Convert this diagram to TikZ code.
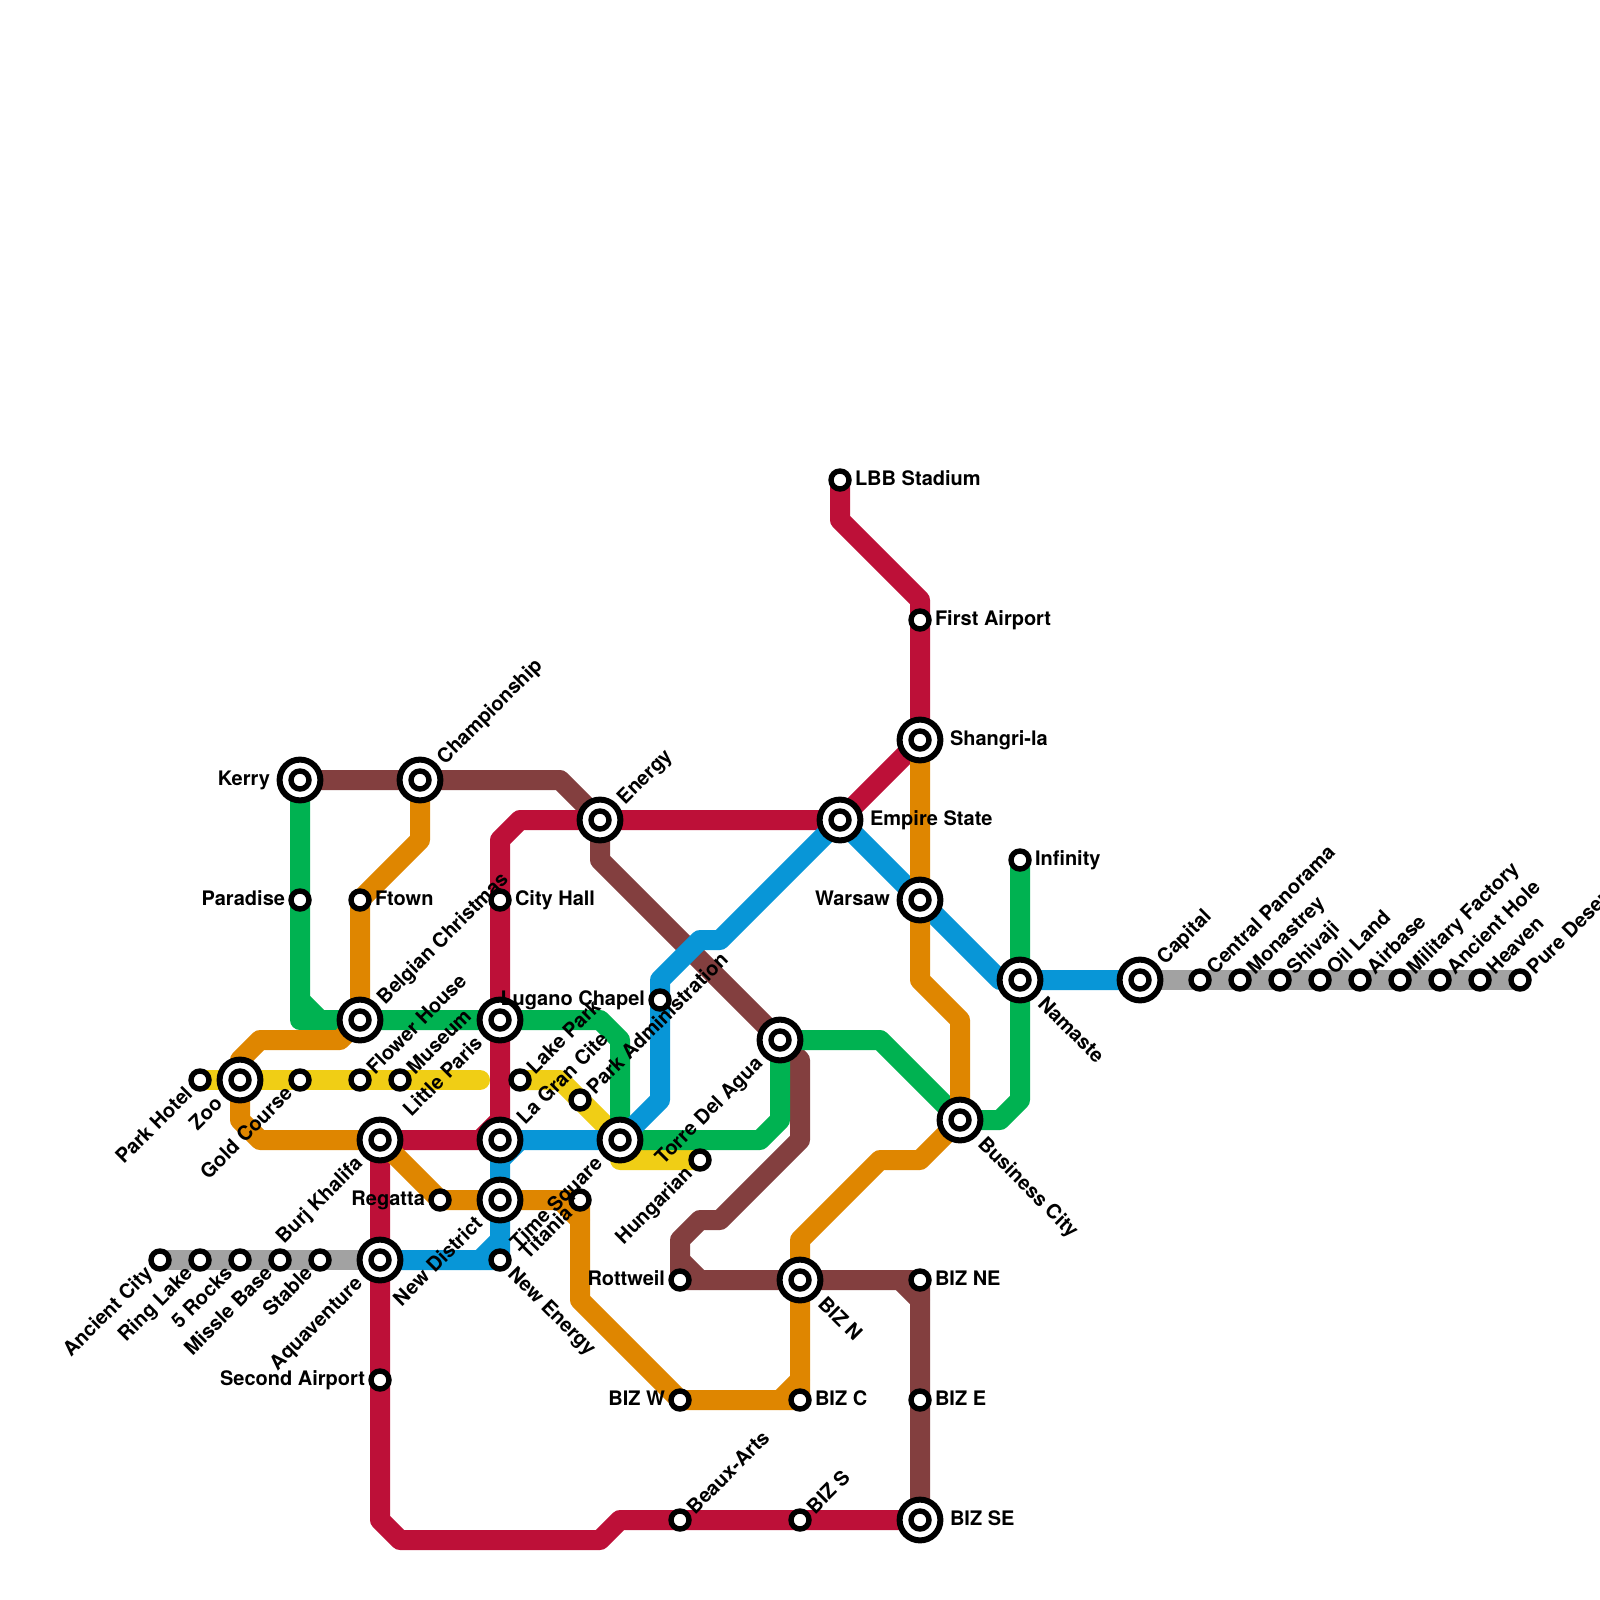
\documentclass[tikz,border=0pt]{standalone}
\usepackage{fontspec}
\setmainfont{TeX Gyre Heros}
\usetikzlibrary{calc,backgrounds}
\definecolor{cred}{HTML}{BD1038}
\definecolor{cgreen}{HTML}{00B251}
\definecolor{cblue}{HTML}{0896D7}
\definecolor{corange}{HTML}{DF8600}
\definecolor{cbrown}{HTML}{833F3F}
\definecolor{cyellow}{HTML}{F0CE15}
\definecolor{cgrey}{HTML}{A2A2A2}
\tikzset{
  metro/.style={line width=10pt,line join=round,line cap=round},
  stn/.style={circle,draw=black,fill=white,line width=2.7pt,minimum size=9pt,inner sep=0pt,outer sep=0pt},
  ring/.style={circle,draw=black,fill=white,line width=3pt,minimum size=20.4pt,inner sep=0pt,outer sep=0pt},
  lbl/.style={font=\bfseries\fontsize{10pt}{10pt}\selectfont,inner sep=0pt,outer sep=0pt,text height=7.2pt,text depth=0pt,text=black}
}
\newcommand\St[3]{\node[stn] (#1) at (#2,#3) {};}
\newcommand\Bg[3]{\node[ring] (#1o) at (#2,#3) {};\node[stn] (#1) at (#2,#3) {};}
\newcommand\LE[3]{\node[lbl,anchor=west] (l#1) at ($(#1)+(#2,-2)$) {#3};}
\newcommand\LW[3]{\node[lbl,anchor=east] (l#1) at ($(#1)+(-#2,-2)$) {#3};}
\newcommand\LNE[3]{\node[lbl,anchor=west,rotate=45] (l#1) at ($(#1)+(#2,-#2)$) {#3};}
\newcommand\LSW[3]{\node[lbl,anchor=east,rotate=45] (l#1) at ($(#1)+(-#2-1.5,#2)$) {#3};}
\newcommand\LSE[3]{\node[lbl,anchor=west,rotate=-45] (l#1) at ($(#1)+(#2+2,#2)$) {#3};}
\begin{document}
\begin{tikzpicture}[x=0.5pt,y=-0.5pt]
\useasboundingbox (0,0) rectangle (1600,1600);
% stations
\St{lbb}{840}{480}\St{first}{920}{620}\Bg{shangri}{920}{740}\Bg{empire}{840}{820}\Bg{warsaw}{920}{900}
\St{infinity}{1020}{860}\Bg{namaste}{1020}{980}\Bg{capital}{1140}{980}
\St{central}{1200}{980}\St{monastrey}{1240}{980}\St{shivaji}{1280}{980}\St{oil}{1320}{980}\St{airbase}{1360}{980}
\St{military}{1400}{980}\St{ancienth}{1440}{980}\St{heaven}{1480}{980}\St{pure}{1520}{980}
\Bg{kerry}{300}{780}\Bg{champ}{420}{780}\Bg{energy}{600}{820}
\St{paradise}{300}{900}\St{ftown}{360}{900}\St{cityhall}{500}{900}
\Bg{belgian}{360}{1020}\Bg{littlep}{500}{1020}\St{lugano}{660}{1000}
\St{parkh}{200}{1080}\Bg{zoo}{240}{1080}\St{gold}{300}{1080}\St{flower}{360}{1080}\St{museum}{400}{1080}
\St{lakep}{520}{1080}\St{parka}{580}{1100}
\Bg{burj}{380}{1140}\Bg{lagran}{500}{1140}\Bg{timesq}{620}{1140}\St{hungarian}{700}{1160}
\St{regatta}{440}{1200}\Bg{newd}{500}{1200}\St{titania}{580}{1200}
\St{ancientc}{160}{1260}\St{ring}{200}{1260}\St{rocks}{240}{1260}\St{missle}{280}{1260}\St{stable}{320}{1260}
\Bg{aqua}{380}{1260}\St{newe}{500}{1260}
\Bg{torre}{780}{1040}\Bg{business}{960}{1120}
\St{rott}{680}{1280}\Bg{bizn}{800}{1280}\St{bizne}{920}{1280}
\St{secondair}{380}{1380}\St{bizw}{680}{1400}\St{bizc}{800}{1400}\St{bize}{920}{1400}
\St{beaux}{680}{1520}\St{bizs}{800}{1520}\Bg{bizse}{920}{1520}
% lines
\begin{pgfonlayer}{background}
\draw[metro,cgrey] (ancientc.center) -- (aqua.center);
\draw[metro,cgrey] (capital.center) -- (pure.center);
\draw[metro,cyellow] (parkh.center) -- (480,1080);
\draw[metro,cyellow] (lakep.center) -- (560,1080) -- (timesq.center) -- (620,1160) -- (hungarian.center);
\draw[metro,cbrown] (kerry.center) -- (560,780) -- (energy.center) -- (600,860) -- (torre.center) -- (800,1060) -- (800,1140) -- (720,1220) -- (700,1220) -- (680,1240) -- (rott.center) -- (bizne.center) -- (bizse.center);
\draw[metro,cbrown] (680,1260) -- (700,1280);
\draw[metro,cbrown] (900,1280) -- (920,1300);
\draw[metro,cgreen] (kerry.center) -- (300,1020) -- (belgian.center) -- (littlep.center) -- (600,1020) -- (620,1040) -- (timesq.center) -- (760,1140) -- (780,1120) -- (torre.center) -- (880,1040) -- (business.center) -- (1000,1120) -- (1020,1100) -- (infinity.center);
\draw[metro,cgreen] (300,1000) -- (320,1020);
\draw[metro,cred] (lbb.center) -- (840,520) -- (920,600) -- (shangri.center) -- (empire.center) -- (520,820) -- (500,840) -- (lagran.center) -- (burj.center) -- (380,1520) -- (400,1540) -- (600,1540) -- (620,1520) -- (bizse.center);
\draw[metro,cred] (480,1140) -- (500,1120);
\draw[metro,cblue] (aqua.center) -- (newe.center) -- (lagran.center) -- (timesq.center) -- (660,1100) -- (660,980) -- (700,940) -- (720,940) -- (empire.center) -- (1000,980) -- (namaste.center) -- (capital.center);
\draw[metro,cblue] (480,1260) -- (500,1240);
\draw[metro,cblue] (500,1160) -- (520,1140);
\draw[metro,corange] (champ.center) -- (420,840) -- (360,900) -- (belgian.center) -- (340,1040) -- (260,1040) -- (240,1060) -- (240,1120) -- (260,1140) -- (burj.center) -- (regatta.center) -- (titania.center) -- (580,1300) -- (bizw.center) -- (bizc.center) -- (800,1240) -- (880,1160) -- (920,1160) -- (business.center) -- (960,1020) -- (920,980) -- (shangri.center);
\draw[metro,corange] (560,1200) -- (580,1220);
\draw[metro,corange] (780,1400) -- (800,1380);
\end{pgfonlayer}
% labels
\LE{lbb}{15}{LBB Stadium}\LE{first}{15}{First Airport}\LE{shangri}{30}{Shangri-la}\LE{empire}{30}{Empire State}
\LW{warsaw}{30}{Warsaw}\LE{infinity}{15}{Infinity}\LSE{namaste}{20}{Namaste}\LNE{capital}{20}{Capital}
\LNE{central}{10}{Central Panorama}\LNE{monastrey}{10}{Monastrey}\LNE{shivaji}{10}{Shivaji}\LNE{oil}{10}{Oil Land}\LNE{airbase}{10}{Airbase}
\LNE{military}{10}{Military Factory}\LNE{ancienth}{10}{Ancient Hole}\LNE{heaven}{10}{Heaven}\LNE{pure}{10}{Pure Desert}
\LW{kerry}{30}{Kerry}\LNE{champ}{20}{Championship}\LNE{energy}{20}{Energy}
\LW{paradise}{15}{Paradise}\LE{ftown}{15}{Ftown}\LE{cityhall}{15}{City Hall}
\LNE{belgian}{20}{Belgian Christmas}\LSW{littlep}{20}{Little Paris}\LW{lugano}{15}{Lugano Chapel}
\LSW{parkh}{10}{Park Hotel}\LSW{zoo}{20}{Zoo}\LSW{gold}{10}{Gold Course}\LNE{flower}{10}{Flower House}\LNE{museum}{10}{Museum}
\LNE{lakep}{10}{Lake Park}\LNE{parka}{10}{Park Administration}
\LSW{burj}{20}{Burj Khalifa}\LNE{lagran}{20}{La Gran Cite}\LSW{timesq}{20}{Time Square}\LSW{hungarian}{10}{Hungarian}
\LW{regatta}{15}{Regatta}\LSW{newd}{20}{New District}\LSW{titania}{10}{Titania}
\LSW{ancientc}{10}{Ancient City}\LSW{ring}{10}{Ring Lake}\LSW{rocks}{10}{5 Rocks}\LSW{missle}{10}{Missle Base}\LSW{stable}{10}{Stable}
\LSW{aqua}{20}{Aquaventure}\LSE{newe}{10}{New Energy}
\LSW{torre}{20}{Torre Del Agua}\LSE{business}{20}{Business City}
\LW{rott}{15}{Rottweil}\LSE{bizn}{20}{BIZ N}\LE{bizne}{15}{BIZ NE}
\LW{secondair}{15}{Second Airport}\LW{bizw}{15}{BIZ W}\LE{bizc}{15}{BIZ C}\LE{bize}{15}{BIZ E}
\LNE{beaux}{10}{Beaux-Arts}\LNE{bizs}{10}{BIZ S}\LE{bizse}{30}{BIZ SE}
\end{tikzpicture}
\end{document}
